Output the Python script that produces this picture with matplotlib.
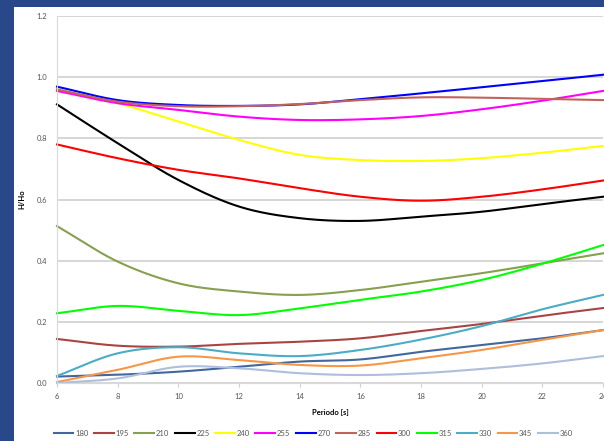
import numpy as np
import matplotlib
matplotlib.use("Agg")
import matplotlib.pyplot as plt
from matplotlib.patches import Rectangle
from matplotlib.lines import Line2D

# periodos [s]
periodo = [6, 8, 10, 12, 14, 16, 18, 20, 22, 24]

# H/Ho por direccion
d180 = [0.021, 0.027, 0.037, 0.053, 0.070, 0.077, 0.102, 0.124, 0.146, 0.173]
d195 = [0.144, 0.122, 0.119, 0.128, 0.135, 0.146, 0.170, 0.193, 0.220, 0.245]
d210 = [0.513, 0.397, 0.326, 0.299, 0.288, 0.304, 0.331, 0.359, 0.391, 0.424]
d225 = [0.911, 0.784, 0.664, 0.577, 0.539, 0.530, 0.544, 0.560, 0.585, 0.609]
d240 = [0.960, 0.915, 0.855, 0.795, 0.746, 0.729, 0.726, 0.735, 0.753, 0.775]
d255 = [0.955, 0.915, 0.893, 0.871, 0.860, 0.862, 0.873, 0.895, 0.923, 0.955]
d270 = [0.969, 0.925, 0.909, 0.906, 0.911, 0.928, 0.947, 0.967, 0.987, 1.008]
d285 = [0.960, 0.920, 0.905, 0.905, 0.912, 0.925, 0.934, 0.933, 0.929, 0.925]
d300 = [0.780, 0.735, 0.697, 0.669, 0.637, 0.609, 0.596, 0.609, 0.633, 0.662]
d315 = [0.228, 0.252, 0.236, 0.222, 0.244, 0.272, 0.299, 0.337, 0.390, 0.451]
d330 = [0.023, 0.097, 0.117, 0.097, 0.088, 0.108, 0.142, 0.186, 0.241, 0.288]
d345 = [0.003, 0.043, 0.086, 0.075, 0.059, 0.057, 0.081, 0.108, 0.141, 0.173]
d360 = [0.000, 0.015, 0.053, 0.048, 0.032, 0.026, 0.032, 0.046, 0.064, 0.088]

nombres = ["180", "195", "210", "225", "240", "255", "270", "285", "300",
           "315", "330", "345", "360"]
series = [d180, d195, d210, d225, d240, d255, d270, d285, d300,
          d315, d330, d345, d360]
colores = ["#41679e", "#a94442", "#86a04f", "#000000", "#ffff00", "#ff00ff",
           "#0000ff", "#c0645a", "#ff0000", "#00ff00", "#4bacc6", "#f79646",
           "#aebfdc"]


def suavizar(x, y, n=30):
    # linea suavizada tipo excel (catmull-rom)
    x = np.asarray(x, float)
    y = np.asarray(y, float)
    px = np.concatenate([[2 * x[0] - x[1]], x, [2 * x[-1] - x[-2]]])
    py = np.concatenate([[2 * y[0] - y[1]], y, [2 * y[-1] - y[-2]]])
    xs, ys = [], []
    t = np.linspace(0, 1, n, endpoint=False)
    for i in range(1, len(px) - 2):
        for p, out in ((px, xs), (py, ys)):
            p0, p1, p2, p3 = p[i - 1], p[i], p[i + 1], p[i + 2]
            out.extend(0.5 * ((2 * p1) + (-p0 + p2) * t
                              + (2 * p0 - 5 * p1 + 4 * p2 - p3) * t ** 2
                              + (-p0 + 3 * p1 - 3 * p2 + p3) * t ** 3))
    xs.append(x[-1])
    ys.append(y[-1])
    return np.array(xs), np.array(ys)


plt.rcParams['font.family'] = ['Lato', 'DejaVu Sans']

fig = plt.figure(figsize=(6.04, 4.41), dpi=100)
fig.patch.set_facecolor("#29488a")
fondo = Rectangle((14 / 604, 0), 1, 1 - 7 / 441, transform=fig.transFigure,
                  facecolor="white", edgecolor="none", zorder=-10)
fig.patches.append(fondo)

ax = fig.add_axes([57 / 604, 1 - 383 / 441, 546 / 604, 367 / 441])
ax.set_zorder(1)
ax.patch.set_alpha(0)

for s, c in zip(series, colores):
    sx, sy = suavizar(periodo, s)
    ax.plot(sx, sy, color=c, lw=1.5, clip_on=False)

ax.set_xlim(6, 24)
ax.set_ylim(0, 1.2)
ax.set_xticks(range(6, 25, 2))
ax.set_yticks(np.arange(0, 1.21, 0.2))
ax.set_yticklabels([f"{v:.1f}" for v in np.arange(0, 1.21, 0.2)])
ax.grid(axis="y", color="#d0d0d0", lw=1.2)
ax.set_axisbelow(True)
for sp in ["top", "right"]:
    ax.spines[sp].set_visible(False)
ax.spines["left"].set_color("#d9d9d9")
ax.spines["bottom"].set_color("#d9d9d9")
ax.tick_params(axis="y", length=0, labelsize=5.5, labelcolor="#555555", pad=7)
ax.tick_params(axis="x", length=3, color="#d0d0d0", labelsize=5.5,
               labelcolor="#555555", pad=4)

ax.set_xlabel("Periodo [s]", fontsize=5.5, fontweight="bold", labelpad=7)
ax.set_ylabel("H/Ho", fontsize=5.5, fontweight="bold", labelpad=8)

handles = [Line2D([], [], color=c, lw=1.5) for c in colores]
fig.legend(handles, nombres, loc="center", bbox_to_anchor=(313 / 604, 1 - 433 / 441),
           ncol=13, frameon=False, fontsize=5.5, handlelength=2.6,
           handletextpad=0.2, columnspacing=0.75, labelcolor="#555555")

fig.savefig("out.png", dpi=100)
